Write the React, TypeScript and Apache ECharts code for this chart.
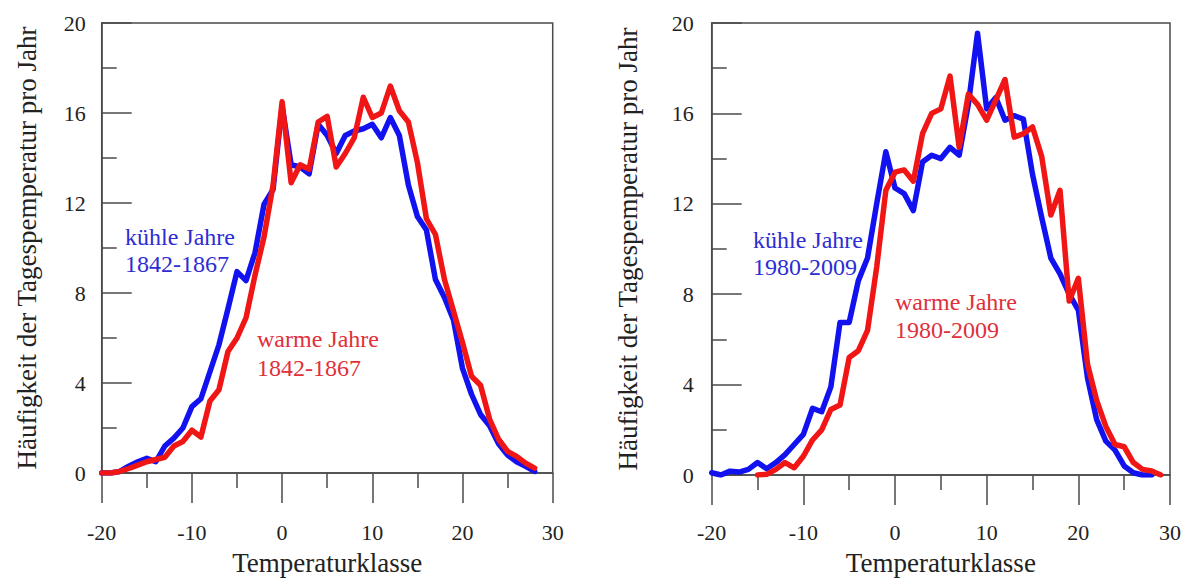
import React, { useEffect, useRef } from "react";
import * as echarts from "echarts";

// Temperature classes (°C) for the left panel (1842-1867)
const leftClasses = [
  -20, -19, -18, -17, -16, -15, -14, -13, -12, -11, -10, -9, -8, -7, -6, -5, -4, -3, -2, -1,
  0, 1, 2, 3, 4, 5, 6, 7, 8, 9, 10, 11, 12, 13, 14, 15, 16, 17, 18, 19, 20, 21, 22, 23, 24,
  25, 26, 27, 28,
];
// kühle Jahre 1842-1867
const leftCool = [
  0, 0, 0.07, 0.3, 0.5, 0.65, 0.5, 1.2, 1.55, 2.0, 2.95, 3.3, 4.5, 5.7, 7.3, 8.95, 8.55, 9.8, 11.95, 12.6,
  16.3, 13.7, 13.6, 13.3, 15.5, 15.0, 14.2, 15.0, 15.2, 15.3, 15.5, 14.9, 15.8, 15.0, 12.8, 11.4, 10.8, 8.6,
  7.8, 6.8, 4.65, 3.5, 2.6, 2.1, 1.3, 0.8, 0.5, 0.3, 0.07,
];
// warme Jahre 1842-1867
const leftWarm = [
  0, 0, 0.07, 0.2, 0.35, 0.5, 0.6, 0.7, 1.2, 1.4, 1.9, 1.6, 3.2, 3.7, 5.4, 6.0, 6.9, 8.8, 10.5, 12.8,
  16.5, 12.9, 13.7, 13.5, 15.6, 15.85, 13.6, 14.2, 14.9, 16.7, 15.8, 16.0, 17.2, 16.1, 15.6, 13.8, 11.3, 10.6,
  8.6, 7.2, 5.8, 4.3, 3.9, 2.4, 1.5, 0.96, 0.74, 0.44, 0.22,
];

// Temperature classes for the right panel (1980-2009)
const rightCoolClasses = [
  -20, -19, -18, -17, -16, -15, -14, -13, -12, -11, -10, -9, -8, -7, -6, -5, -4, -3, -2, -1,
  0, 1, 2, 3, 4, 5, 6, 7, 8, 9, 10, 11, 12, 13, 14, 15, 16, 17, 18, 19, 20, 21, 22, 23, 24,
  25, 26, 27, 28,
];
const rightCool = [
  0.1, 0, 0.17, 0.13, 0.25, 0.55, 0.28, 0.55, 0.9, 1.35, 1.8, 2.95, 2.8, 3.9, 6.75, 6.75, 8.6, 9.6, 12.0, 14.3,
  12.7, 12.45, 11.7, 13.85, 14.15, 14.0, 14.5, 14.15, 16.4, 19.55, 16.2, 16.7, 15.7, 15.9, 15.75, 13.3, 11.4, 9.6,
  8.9, 8.0, 7.3, 4.3, 2.45, 1.5, 1.1, 0.4, 0.1, 0, 0,
];
const rightWarmClasses = [
  -15, -14, -13, -12, -11, -10, -9, -8, -7, -6, -5, -4, -3, -2, -1,
  0, 1, 2, 3, 4, 5, 6, 7, 8, 9, 10, 11, 12, 13, 14, 15, 16, 17, 18, 19, 20, 21, 22, 23, 24,
  25, 26, 27, 28, 29,
];
const rightWarm = [
  0, 0.03, 0.25, 0.55, 0.32, 0.83, 1.55, 2.0, 2.9, 3.1, 5.2, 5.5, 6.4, 9.2, 12.6,
  13.4, 13.5, 13.0, 15.1, 16.0, 16.2, 17.65, 14.5, 16.85, 16.4, 15.7, 16.6, 17.5, 14.95, 15.1, 15.4, 14.1,
  11.5, 12.6, 7.7, 8.7, 4.9, 3.3, 2.15, 1.35, 1.25, 0.55, 0.25, 0.18, 0,
];

const xTicks = { min: -20, max: 30, interval: 10 };
const yTicks = { min: 0, max: 20, interval: 4 };
const xTitle = "Temperaturklasse";
const yTitle = "Häufigkeit der Tagespemperatur pro Jahr";
const labels = {
  coolLeft: "kühle Jahre\n1842-1867",
  warmLeft: "warme Jahre\n1842-1867",
  coolRight: "kühle Jahre\n1980-2009",
  warmRight: "warme Jahre\n1980-2009",
};

const FONT = '"Liberation Serif", "Times New Roman", serif';
const AXIS_COLOR = "#4a4a4a";
const TEXT_COLOR = "#222";
const BLUE = "#1212f0";
const RED = "#f01616";
const BLUE_TEXT = "#2d2dd2";
const RED_TEXT = "#e0303a";

const pairs = (xs: number[], ys: number[]) => xs.map((x, i) => [x, ys[i]]);

function xAxisFor(gridIndex: number, labelMargin: number, nameGap: number) {
  return {
    gridIndex,
    type: "value",
    min: xTicks.min,
    max: xTicks.max,
    interval: xTicks.interval,
    name: xTitle,
    nameLocation: "middle",
    nameGap,
    nameTextStyle: { fontFamily: FONT, fontSize: 27, color: TEXT_COLOR },
    axisLine: { show: true, onZero: false, lineStyle: { color: AXIS_COLOR, width: 1.5 } },
    axisTick: { show: true, inside: false, length: 30, lineStyle: { color: AXIS_COLOR, width: 1.5 } },
    minorTick: { show: true, splitNumber: 2, length: 15, lineStyle: { color: AXIS_COLOR, width: 1.5 } },
    splitLine: { show: false },
    minorSplitLine: { show: false },
    axisLabel: { fontFamily: FONT, fontSize: 22, color: TEXT_COLOR, margin: labelMargin },
  };
}

function yAxisFor(gridIndex: number, labelMargin: number, nameGap: number) {
  return {
    gridIndex,
    type: "value",
    min: yTicks.min,
    max: yTicks.max,
    interval: yTicks.interval,
    name: yTitle,
    nameLocation: "middle",
    nameGap,
    nameTextStyle: { fontFamily: FONT, fontSize: 27, color: TEXT_COLOR },
    axisLine: { show: true, onZero: false, lineStyle: { color: AXIS_COLOR, width: 1.5 } },
    axisTick: { show: true, inside: true, length: 30, lineStyle: { color: AXIS_COLOR, width: 1.5 } },
    minorTick: { show: true, splitNumber: 2, length: 15, lineStyle: { color: AXIS_COLOR, width: 1.5 } },
    splitLine: { show: false },
    minorSplitLine: { show: false },
    axisLabel: { fontFamily: FONT, fontSize: 22, color: TEXT_COLOR, margin: labelMargin },
  };
}

function lineSeries(name: string, idx: number, data: number[][], color: string, z: number) {
  return {
    name,
    type: "line",
    xAxisIndex: idx,
    yAxisIndex: idx,
    data,
    showSymbol: false,
    symbol: "none",
    z,
    lineStyle: { color, width: 5.5, join: "round", cap: "round" },
    itemStyle: { color },
    emphasis: { disabled: true },
  };
}

function annotation(text: string, x: number, y: number, color: string, lineHeight: number) {
  return {
    type: "text",
    x,
    y,
    z: 100,
    style: {
      text,
      fill: color,
      fontFamily: FONT,
      fontSize: 24,
      lineHeight,
      align: "left",
      verticalAlign: "top",
    },
  };
}

export default function App() {
  const ref = useRef<HTMLDivElement>(null);

  useEffect(() => {
    if (!ref.current) return;
    const chart = echarts.init(ref.current, undefined, { renderer: "svg" });
    chart.setOption({
      animation: false,
      backgroundColor: "#ffffff",
      grid: [
        { left: 101.7, top: 23, width: 451, height: 452, show: true, borderColor: AXIS_COLOR, borderWidth: 1.5 },
        { left: 711.7, top: 23, width: 458.3, height: 456, show: true, borderColor: AXIS_COLOR, borderWidth: 1.5 },
      ],
      xAxis: [xAxisFor(0, 48, 76), xAxisFor(1, 46, 74)],
      yAxis: [yAxisFor(0, 16, 61), yAxisFor(1, 18, 70)],
      series: [
        lineSeries("kühle Jahre 1842-1867", 0, pairs(leftClasses, leftCool), BLUE, 2),
        lineSeries("warme Jahre 1842-1867", 0, pairs(leftClasses, leftWarm), RED, 3),
        lineSeries("kühle Jahre 1980-2009", 1, pairs(rightCoolClasses, rightCool), BLUE, 2),
        lineSeries("warme Jahre 1980-2009", 1, pairs(rightWarmClasses, rightWarm), RED, 3),
      ],
      graphic: [
        annotation(labels.coolLeft, 125, 223, BLUE_TEXT, 27),
        annotation(labels.warmLeft, 257, 324, RED_TEXT, 29),
        annotation(labels.coolRight, 753, 226, BLUE_TEXT, 27),
        annotation(labels.warmRight, 895, 288, RED_TEXT, 28),
      ],
    });
    return () => chart.dispose();
  }, []);

  return (
    <div
      ref={ref}
      style={{ position: "absolute", left: 0, top: 0, width: 1188, height: 581, background: "#fff" }}
    />
  );
}
